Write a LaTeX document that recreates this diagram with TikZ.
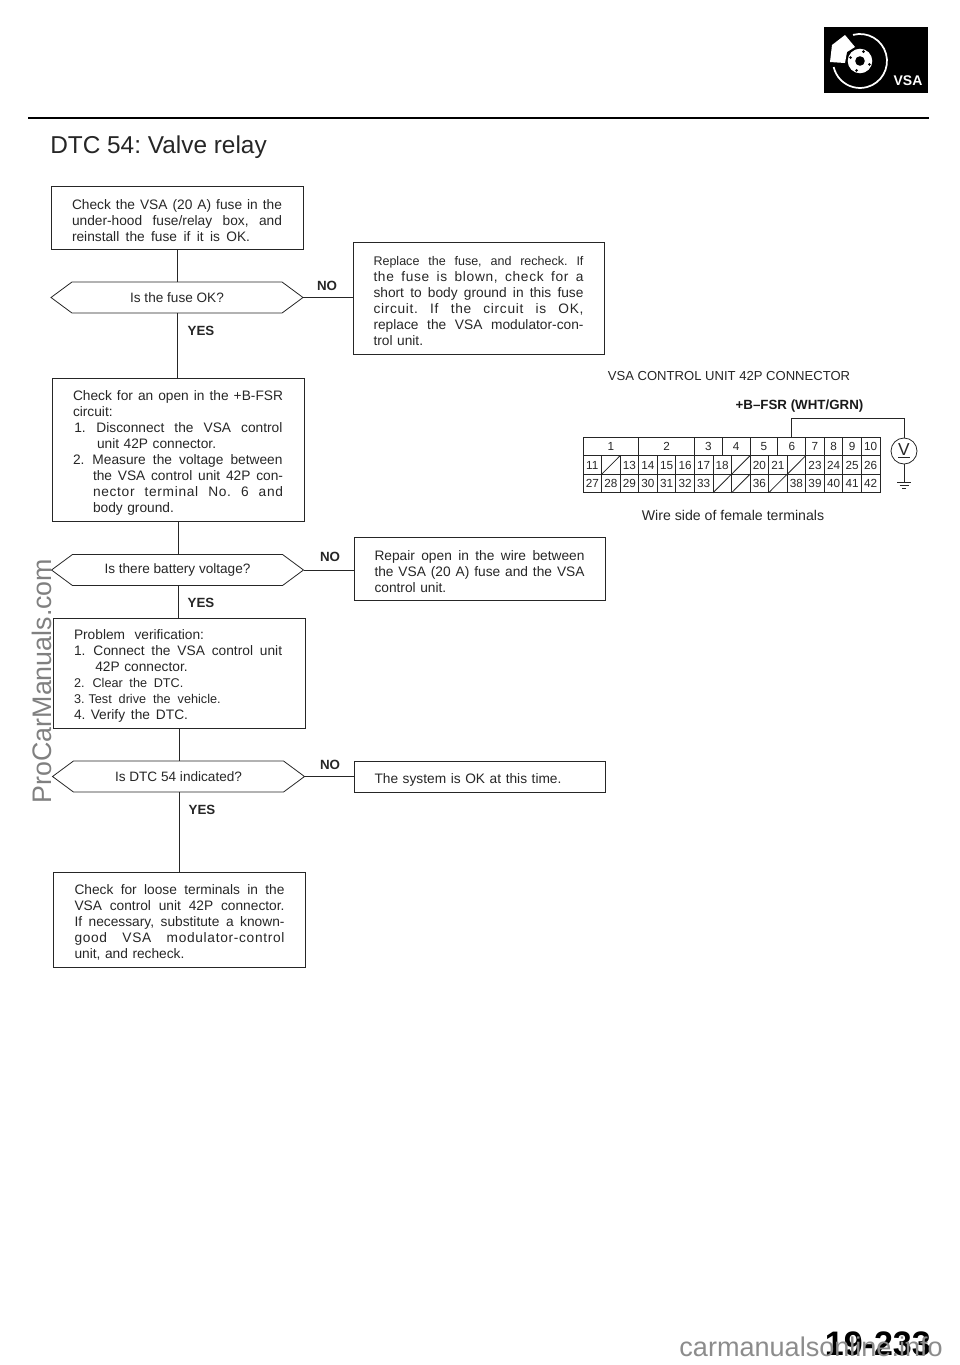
\documentclass[tikz,border=0pt]{standalone}
\usepackage{fontspec}
\setmainfont{Liberation Sans}
\usetikzlibrary{shapes.symbols, positioning, calc}

\newcommand{\wl}[2]{\leavevmode\hbox to #1{\spaceskip=\fontdimen2\font plus 1fil\relax #2}}
\newcommand{\fl}[1]{\wl{\hsize}{#1}}
\newcommand{\il}[1]{\hspace*{15pt}\wl{\dimexpr\hsize-15pt}{#1}}
\newcommand{\ls}[1]{{\addfontfeature{LetterSpace=5}#1}}

\begin{document}
\begin{tikzpicture}[x=0.75pt, y=-0.75pt,
  box/.style={draw=black!85, line width=0.6pt, rectangle, minimum width=189pt, inner sep=0pt, outer sep=0pt,
    align=left, text width=157.5pt, text=black!85, font=\fontsize{10.3}{12}\selectfont\frenchspacing,
    execute at begin node={\rule{0pt}{12pt}}},
  ask/.style={draw=black!85, line width=0.6pt, signal, signal to=west and east, signal pointer angle=73,
    minimum width=189pt, minimum height=23.2pt, inner sep=0pt, outer sep=0pt,
    text=black!85, font=\fontsize{10.2}{12}\selectfont},
  link/.style={draw=black!85, line width=0.6pt},
  ans/.style={font=\fontsize{10}{12}\selectfont\bfseries, text=black!85, inner sep=0pt},
  lab/.style={font=\fontsize{9.8}{12}\selectfont, text=black!85, inner sep=0pt},
  cell/.style={draw=black!85, line width=0.6pt, rectangle, minimum height=14pt, text height=6.2pt, text depth=0pt,
    inner sep=0pt, outer sep=0pt, text=black!85, font=\fontsize{8.8}{10}\selectfont},
  pin/.style={cell, minimum width=13.92pt}]
  \useasboundingbox (0,0) rectangle (960,1365);

  \fill[black] (824,27) rectangle (928,93);
  \draw[white, line width=1.3pt] (853,34.9) arc[start angle=105, end angle=-167, radius=20.25pt];
  \fill[white] (830,62) -- (832,45) -- (845,35) -- (855,47) -- (847,52) -- (845,63) -- cycle;
  \fill[white] (860,61) circle[radius=9.2pt];
  \fill[black] (860,61) circle[radius=3.6pt];
  \foreach \a in {20,110,200,290}
    \fill[black] ([shift={(\a:10)}]860,61) circle[radius=1.1pt];
  \node[text=white, font=\fontsize{10.5}{12}\selectfont\bfseries, inner sep=0pt] (badge) at (908,81) {VSA};

  \draw[black, line width=1.4pt] (28,118) -- (929,118);
  \node[anchor=west, inner sep=0pt, text=black!85, font=\fontsize{18.3}{22}\selectfont\frenchspacing] (title) at (50,147.5)
    {DTC 54: Valve relay};

  \node[box, minimum height=47.25pt] (fuse) at (177,217.5) {\fl{Check the VSA (20 A) fuse in the}\\
    \fl{under-hood fuse/relay box, and}\\\wl{133.5pt}{reinstall the fuse if it is OK.}};
  \node[ask] (askfuse) at (177,297.5) {Is the fuse OK?};
  \node[box, minimum width=188.25pt, minimum height=84pt] (replace) at (478.5,298) {\fontsize{9.4}{12}\selectfont\fl{Replace the fuse, and recheck. If}\\
    \fontsize{10.3}{12}\selectfont\fl{\ls{the fuse is blown, check for a}}\\\fl{short to body ground in this fuse}\\
    \fl{\ls{circuit. If the circuit is OK,}}\\\fl{replace the VSA modulator-con-}\\trol unit.};
  \node[box, minimum height=107.25pt] (open) at (178,449.5) {\fl{Check for an open in the +B-FSR}\\circuit:\\
    \hspace*{1pt}1.\hspace{8pt}\wl{\dimexpr\hsize-18pt}{Disconnect the VSA control}\\\hspace*{18pt}unit 42P connector.\\
    2.\hspace{6pt}\wl{\dimexpr\hsize-15pt}{Measure the voltage between}\\
    \il{the VSA control unit 42P con-}\\\il{\ls{nector terminal No. 6 and}}\\\hspace*{15pt}body ground.};
  \node[ask] (askvolt) at (177.5,570) {Is there battery voltage?};
  \node[box, minimum width=188.25pt, minimum height=47.25pt] (repair) at (479.5,568.5) {\fl{Repair open in the wire between}\\
    \fl{the VSA (20 A) fuse and the VSA}\\control unit.};
  \node[box, minimum height=82.5pt] (verify) at (179,673) {\wl{97.5pt}{Problem verification:}\\
    1.\hspace{6pt}\wl{\dimexpr\hsize-16pt}{Connect the VSA control unit}\\\hspace*{16pt}42P connector.\\
    {\fontsize{9.5}{12}\selectfont\wl{82pt}{2.\hspace{6pt}Clear the DTC.}}\\{\fontsize{9.5}{12}\selectfont\wl{110pt}{3.\hspace{3pt}Test drive the vehicle.}}\\
    \wl{85.5pt}{4.\hspace{4pt}Verify the DTC.}};
  \node[ask] (askdtc) at (178.5,776.5) {Is DTC 54 indicated?};
  \node[box, minimum width=188.25pt, minimum height=23.25pt] (sysok) at (479.5,776.5) {The system is OK at this time.};
  \node[box, minimum height=71.25pt] (loose) at (179.5,919.5) {\fl{Check for loose terminals in the}\\
    \fl{VSA control unit 42P connector.}\\\fl{If necessary, substitute a known-}\\
    \fl{\ls{good VSA modulator-control}}\\unit, and recheck.};

  \node[ans] (no1) at (327,286) {NO};
  \node[ans] (yes1) at (201,331) {YES};
  \node[ans] (no2) at (330,557) {NO};
  \node[ans] (yes2) at (201,603) {YES};
  \node[ans] (no3) at (330,765) {NO};
  \node[ans] (yes3) at (202,810) {YES};

  \draw[link] (fuse.south) -- (askfuse.north);
  \draw[link] (askfuse.south) -- (open.north -| askfuse.south);
  \draw[link] (askfuse.east) -- (askfuse.east -| replace.west);
  \draw[link] (open.south) -- (askvolt.north -| open.south);
  \draw[link] (askvolt.south -| open.south) -- (verify.north -| open.south);
  \draw[link] (askvolt.east) -- (askvolt.east -| repair.west);
  \draw[link] (verify.south) -- (askdtc.north -| verify.south);
  \draw[link] (askdtc.south -| verify.south) -- (loose.north -| verify.south);
  \draw[link] (askdtc.east) -- (sysok.west);

  \node[lab] (conn) at (729,376) {VSA CONTROL UNIT 42P CONNECTOR};
  \node[font=\fontsize{10}{12}\selectfont\bfseries, text=black!90, inner sep=0pt] (wire) at (799.5,406) {+B–FSR (WHT/GRN)};
  \foreach \n/\a/\b in {1/0/3, 2/3/6, 3/6/7.5, 4/7.5/9, 5/9/10.5, 6/10.5/12, 7/12/13, 8/13/14, 9/14/15, 10/15/16}
    \node[cell, minimum width={(\b-\a)*13.92pt}] (t\n) at ({583+(\a+\b)/2*18.56},446.5) {\n};
  \foreach \n/\c in {11/0, 13/2, 14/3, 15/4, 16/5, 17/6, 18/7, 20/9, 21/10, 23/12, 24/13, 25/14, 26/15}
    \node[pin] (t\n) at ({583+(\c+0.5)*18.56},465) {\n};
  \foreach \n/\c in {27/0, 28/1, 29/2, 30/3, 31/4, 32/5, 33/6, 36/9, 38/11, 39/12, 40/13, 41/14, 42/15}
    \node[pin] (t\n) at ({583+(\c+0.5)*18.56},483.5) {\n};
  \foreach \n/\c/\r in {12/1/465, 19/8/465, 22/11/465, 34/7/483.5, 35/8/483.5, 37/10/483.5} {
    \node[pin] (t\n) at ({583+(\c+0.5)*18.56},\r) {};
    \draw[link] (t\n.south west) -- (t\n.north east);
  }
  \node[lab, font=\fontsize{10.6}{12}\selectfont] (side) at (733,515) {Wire side of female terminals};

  \node[draw=black!85, line width=0.6pt, circle, minimum size=19.5pt, inner sep=0pt, outer sep=0pt,
    text=black!85, font=\fontsize{13}{14}\selectfont] (meter) at (904,451) {\underline{V}};
  \coordinate (gnd) at (904,482);
  \draw[link] (t6.north) |- (806,418) -| (meter.north);
  \draw[link] (meter.south) -- (gnd);
  \draw[link] ($(gnd)+(-7,0)$) -- ($(gnd)+(7,0)$);
  \draw[link] ($(gnd)+(-4.5,3)$) -- ($(gnd)+(4.5,3)$);
  \draw[link] ($(gnd)+(-2,6)$) -- ($(gnd)+(2,6)$);

  \node[anchor=base east, inner sep=0pt, font=\fontsize{25.5}{28}\selectfont\bfseries] (page) at (931,1355) {19-233};
  \node[rotate=90, text=black!50, inner sep=0pt, font=\fontsize{20.1}{24}\selectfont] (mark) at (42,681) {ProCarManuals.com};
  \node[anchor=base east, text=black!45, inner sep=0pt, font=\fontsize{20.3}{22}\selectfont] (site) at (943,1356) {carmanualsonline.info};
\end{tikzpicture}
\end{document}
